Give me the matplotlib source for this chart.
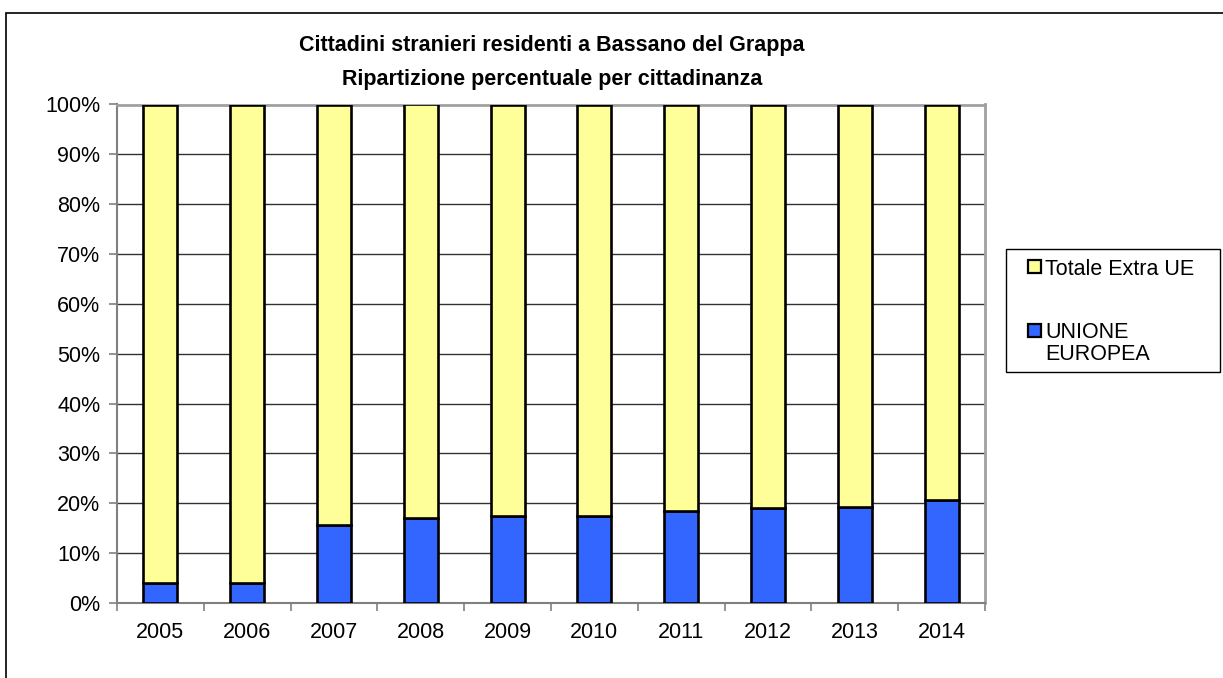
import numpy as np
import matplotlib
matplotlib.use("Agg")
import matplotlib.pyplot as plt
from matplotlib.patches import Rectangle
from matplotlib.ticker import PercentFormatter, FixedLocator

plt.rcParams['font.family'] = ['Liberation Sans', 'DejaVu Sans']

years = ["2005", "2006", "2007", "2008", "2009", "2010", "2011", "2012", "2013", "2014"]
ue = [4.0, 4.0, 15.7, 17.0, 17.5, 17.5, 18.5, 19.0, 19.2, 20.7]
extra_ue = [100 - v for v in ue]
series_names = ["Totale Extra UE", "UNIONE\nEUROPEA"]
colors = ["#FFFF99", "#3366FF"]

W, H = 1223, 678
fig = plt.figure(figsize=(W / 100, H / 100), dpi=100)
ax = fig.add_axes([117 / W, 1 - 603 / H, (985 - 117) / W, (603 - 104.5) / H])

# outer chart frame (runs off the right and bottom edges)
fig.add_artist(Rectangle((6 / W, -0.1), 1.2, 1 - 13 / H + 0.1, transform=fig.transFigure,
                         fill=False, edgecolor="black", linewidth=1.2))

x = np.arange(len(years))
ax.bar(x, ue, width=0.39, color=colors[1], edgecolor="black", linewidth=1.9, zorder=3)
ax.bar(x, extra_ue, width=0.39, bottom=ue, color=colors[0], edgecolor="black", linewidth=1.9, zorder=3)

ax.set_xlim(-0.5, len(years) - 0.5)
ax.set_ylim(0, 100)
ax.set_yticks(np.arange(0, 101, 10))
ax.yaxis.set_major_formatter(PercentFormatter(decimals=0))
ax.set_xticks(x)
ax.set_xticklabels(years)
ax.xaxis.set_minor_locator(FixedLocator(np.arange(-0.5, len(years), 1.0)))
ax.tick_params(axis="x", which="major", length=0, pad=14, labelsize=15.5)
ax.tick_params(axis="x", which="minor", length=6, width=1.2, color="#808080")
ax.tick_params(axis="y", length=6, width=1.2, color="#808080", pad=6, labelsize=15.5)

for y in range(10, 100, 10):
    ax.axhline(y, color="#333333", linewidth=1, zorder=1)

for s in ["left", "bottom"]:
    ax.spines[s].set_color("#808080")
    ax.spines[s].set_linewidth(1.5)
for s in ["top", "right"]:
    ax.spines[s].set_color("#a0a0a0")
    ax.spines[s].set_linewidth(2)

fig.text(552 / W, 1 - 46 / H, "Cittadini stranieri residenti a Bassano del Grappa",
         ha="center", va="center", fontsize=15.5, fontweight="bold")
fig.text(552 / W, 1 - 80 / H, "Ripartizione percentuale per cittadinanza",
         ha="center", va="center", fontsize=15.5, fontweight="bold")

# legend box, drawn by hand so the marker sits on the first text line
fig.add_artist(Rectangle((1006 / W, 1 - 372 / H), 214 / W, 123 / H, transform=fig.transFigure,
                         fill=False, edgecolor="black", linewidth=1))
for yc, name, c in zip([267, 330], series_names, colors):
    fig.add_artist(Rectangle((1028 / W, 1 - (yc + 6.5) / H), 13 / W, 13 / H, transform=fig.transFigure,
                             facecolor=c, edgecolor="black", linewidth=1.6))
    fig.text(1045 / W, 1 - (yc - 8) / H, name, ha="left", va="top", fontsize=15.5,
             linespacing=1.05)

fig.savefig("out.png", dpi=100)
